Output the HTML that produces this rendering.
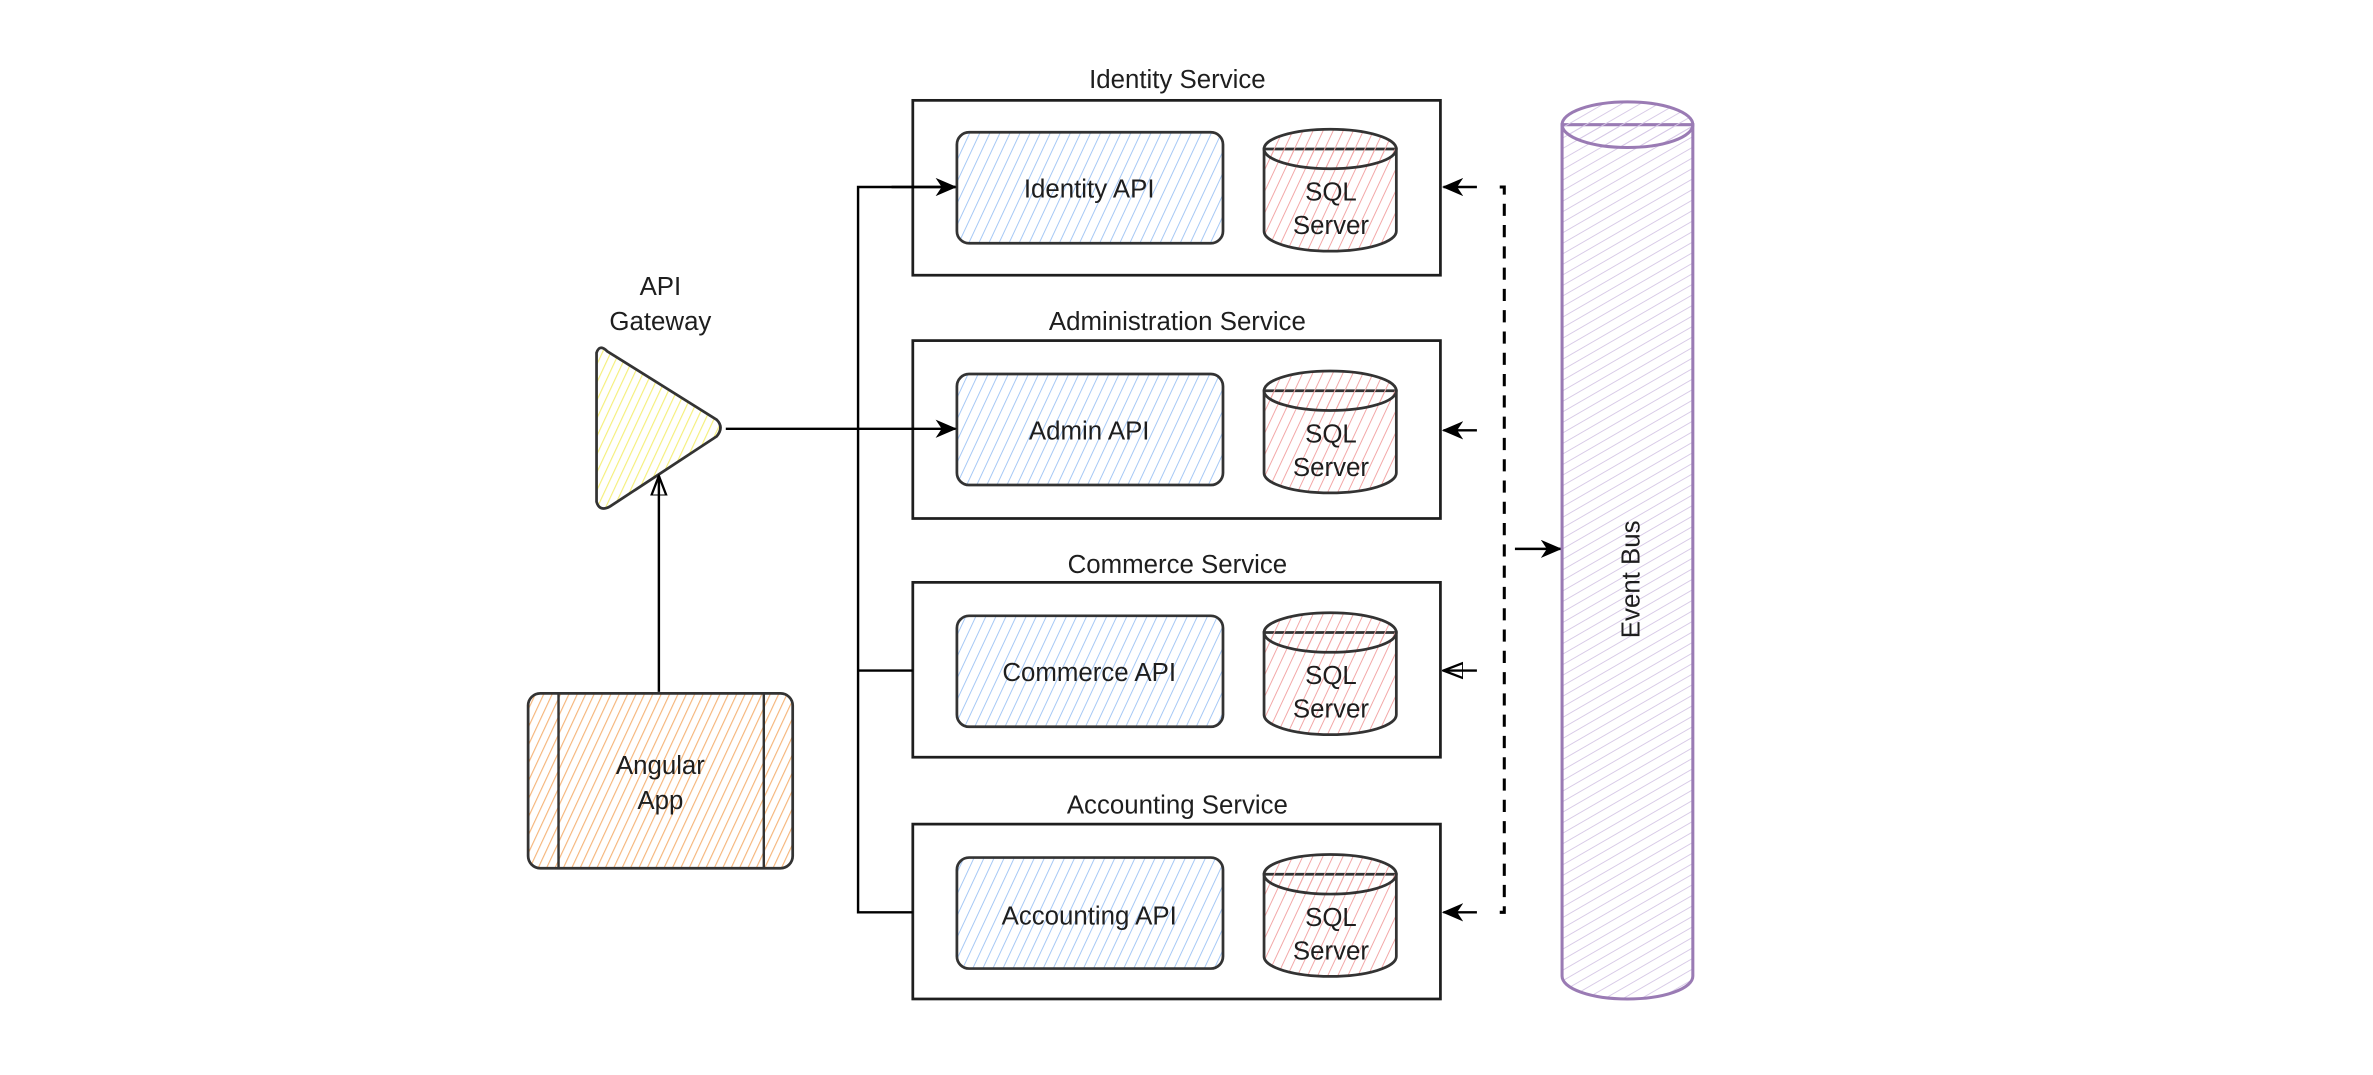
<!DOCTYPE html>
<html><head><meta charset="utf-8"><style>
html,body{margin:0;padding:0;background:#fff;}
svg{display:block;}
text{font-family:"Liberation Sans",sans-serif;fill:#1e1e1e;}
</style></head><body>
<svg width="2373" height="1075" viewBox="0 0 1560 707" xmlns="http://www.w3.org/2000/svg">
<defs>
<pattern id="hb" patternUnits="userSpaceOnUse" width="6" height="6" patternTransform="rotate(25)"><line x1="0" y1="0" x2="0" y2="6" stroke="#a5c8f5" stroke-width="1.3"/></pattern>
<pattern id="hr" patternUnits="userSpaceOnUse" width="6" height="6" patternTransform="rotate(25)"><line x1="0" y1="0" x2="0" y2="6" stroke="#f2a7a7" stroke-width="1.3"/></pattern>
<pattern id="hy" patternUnits="userSpaceOnUse" width="5" height="5" patternTransform="rotate(25)"><line x1="0" y1="0" x2="0" y2="5" stroke="#f5ef7a" stroke-width="1.5"/></pattern>
<pattern id="ho" patternUnits="userSpaceOnUse" width="5" height="5" patternTransform="rotate(25)"><line x1="0" y1="0" x2="0" y2="5" stroke="#f5b57a" stroke-width="1.5"/></pattern>
<pattern id="hp" patternUnits="userSpaceOnUse" width="6" height="6" patternTransform="rotate(60)"><line x1="0" y1="0" x2="0" y2="6" stroke="#d6c8e6" stroke-width="1.2"/></pattern>
<marker id="ar" markerWidth="14" markerHeight="12" refX="13" refY="6" orient="auto" markerUnits="userSpaceOnUse"><path d="M0,0 L14,6 L0,12 L4,6 Z" fill="#000"/></marker>
<marker id="ao" markerWidth="14" markerHeight="12" refX="13" refY="6" orient="auto" markerUnits="userSpaceOnUse"><path d="M0,1 L13,6 L0,11 Z" fill="none" stroke="#000" stroke-width="1.5"/></marker>
</defs>
<g transform="translate(-4,0)">
<g fill="none" stroke="#1e1e1e" stroke-width="1.8">
<rect x="604" y="66" width="347" height="115"/>
<rect x="604" y="224" width="347" height="117"/>
<rect x="604" y="383" width="347" height="115"/>
<rect x="604" y="542" width="347" height="115"/>
</g>
<g font-size="17" text-anchor="middle">
<text x="778" y="58">Identity Service</text>
<text x="778" y="217">Administration Service</text>
<text x="778" y="377">Commerce Service</text>
<text x="778" y="535">Accounting Service</text>
</g>

<g stroke="#333" stroke-width="1.8" fill="url(#hb)">
<rect x="633" y="87" width="175" height="73" rx="8"/>
<rect x="633" y="246" width="175" height="73" rx="8"/>
<rect x="633" y="405" width="175" height="73" rx="8"/>
<rect x="633" y="564" width="175" height="73" rx="8"/>
</g>
<g font-size="17" text-anchor="middle">
<text x="720" y="130">Identity API</text>
<text x="720" y="289">Admin API</text>
<text x="720" y="448">Commerce API</text>
<text x="720" y="608">Accounting API</text>
</g>

<g stroke="#333" stroke-width="1.8">
<g><path d="M835,98 L835,152 A43,13 0 0 0 922,152 L922,98 Z" fill="url(#hr)"/><ellipse cx="878.5" cy="98" rx="43.5" ry="13" fill="url(#hr)"/></g>
<g transform="translate(0,159)"><path d="M835,98 L835,152 A43,13 0 0 0 922,152 L922,98 Z" fill="url(#hr)"/><ellipse cx="878.5" cy="98" rx="43.5" ry="13" fill="url(#hr)"/></g>
<g transform="translate(0,318)"><path d="M835,98 L835,152 A43,13 0 0 0 922,152 L922,98 Z" fill="url(#hr)"/><ellipse cx="878.5" cy="98" rx="43.5" ry="13" fill="url(#hr)"/></g>
<g transform="translate(0,477)"><path d="M835,98 L835,152 A43,13 0 0 0 922,152 L922,98 Z" fill="url(#hr)"/><ellipse cx="878.5" cy="98" rx="43.5" ry="13" fill="url(#hr)"/></g>
</g>
<g font-size="17" text-anchor="middle">
<text x="879" y="132">SQL</text><text x="879" y="154">Server</text>
<text x="879" y="291">SQL</text><text x="879" y="313">Server</text>
<text x="879" y="450">SQL</text><text x="879" y="472">Server</text>
<text x="879" y="609">SQL</text><text x="879" y="631">Server</text>
</g>

<path d="M396,232 Q398,226 403,231 L475,276 Q480,281 475,287 L405,333 Q398,337 396,330 Z" fill="url(#hy)" stroke="#333" stroke-width="1.8"/>
<g font-size="17" text-anchor="middle"><text x="438" y="194">API</text><text x="438" y="217">Gateway</text></g>

<rect x="351" y="456" width="174" height="115" rx="8" fill="url(#ho)" stroke="#333" stroke-width="1.8"/>
<line x1="371" y1="456" x2="371" y2="571" stroke="#333" stroke-width="1.6"/>
<line x1="506" y1="456" x2="506" y2="571" stroke="#333" stroke-width="1.6"/>
<g font-size="17" text-anchor="middle"><text x="438" y="509">Angular</text><text x="438" y="532">App</text></g>

<g fill="none" stroke="#000" stroke-width="1.6">
<line x1="437" y1="455" x2="437" y2="313" marker-end="url(#ao)"/>
<line x1="481" y1="282" x2="632" y2="282" marker-end="url(#ar)"/>
<path d="M632,123 L568,123 L568,600 L604,600"/>
<line x1="568" y1="441" x2="604" y2="441"/>
<line x1="590" y1="123" x2="632" y2="123" marker-end="url(#ar)"/>
<line x1="975" y1="123" x2="953" y2="123" marker-end="url(#ar)"/>
<line x1="975" y1="283" x2="953" y2="283" marker-end="url(#ar)"/>
<line x1="975" y1="441" x2="953" y2="441" marker-end="url(#ao)"/>
<line x1="975" y1="600" x2="953" y2="600" marker-end="url(#ar)"/>
<path d="M990,123 L993,123 L993,600 L990,600" stroke-dasharray="8 6" stroke-width="2"/>
<line x1="1000" y1="361" x2="1030" y2="361" marker-end="url(#ar)"/>
</g>

<path d="M1031,82 L1031,642 A43,15 0 0 0 1117,642 L1117,82 Z" fill="url(#hp)" stroke="#9a7bb4" stroke-width="2"/>
<ellipse cx="1074" cy="82" rx="43" ry="15" fill="url(#hp)" stroke="#9a7bb4" stroke-width="2"/>
<text x="1082" y="381" font-size="17" text-anchor="middle" transform="rotate(-90 1082 381)">Event Bus</text>
</g>
</svg>
</body></html>
